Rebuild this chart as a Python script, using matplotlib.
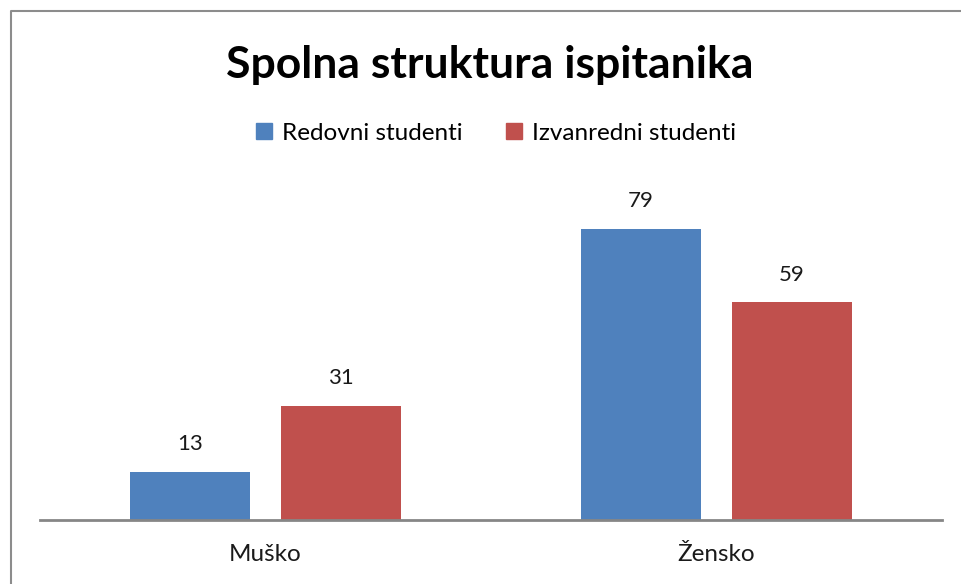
import matplotlib.pyplot as plt
import numpy as np
from matplotlib.lines import Line2D
from matplotlib.patches import Patch

categories = ["Muško", "Žensko"]
series_names = ["Redovni studenti", "Izvanredni studenti"]
redovni = [13, 79]
izvanredni = [31, 59]
colors = ["#4f81bd", "#c0504d"]

plt.rcParams['font.family'] = ['Lato', 'DejaVu Sans']

W, H = 961, 584
fig = plt.figure(figsize=(W / 100, H / 100), dpi=100)

# plot area in pixels
ax = fig.add_axes([40 / W, (H - 520) / H, 902 / W, 332 / H])

x = np.arange(len(categories))
bw = 0.265
off = 0.167
b1 = ax.bar(x - off, redovni, bw, color=colors[0])
b2 = ax.bar(x + off, izvanredni, bw, color=colors[1])

for bars in (b1, b2):
    for r in bars:
        ax.annotate(str(int(r.get_height())), (r.get_x() + r.get_width() / 2, r.get_height()),
                    xytext=(0, 20), textcoords="offset points",
                    ha="center", va="center", fontsize=16, color="#1a1a1a")

ax.set_xlim(-0.5, 1.5)
ax.set_ylim(0, 90)
ax.set_xticks(x)
ax.set_xticklabels(categories, fontsize=17.5, color="#1a1a1a")
ax.tick_params(axis="x", length=0, pad=17)
ax.set_yticks([])
for s in ["top", "right", "left"]:
    ax.spines[s].set_visible(False)
ax.spines["bottom"].set_color("#868686")
ax.spines["bottom"].set_linewidth(2)

fig.text(490 / W, 1 - 65 / H, "Spolna struktura ispitanika", ha="center", va="center",
         fontsize=32, fontweight="bold", color="black")

handles = [Patch(color=c) for c in colors]
fig.legend(handles, series_names, loc="center", bbox_to_anchor=(496 / W, 1 - 133 / H),
           ncol=2, frameon=False, fontsize=17.5, handlelength=0.65, handleheight=0.65,
           handletextpad=0.4, columnspacing=1.8)

# chart border (top and left visible)
bx = 11 / W
by = 1 - 11 / H
fig.add_artist(Line2D([bx, bx, 1], [0, by, by], transform=fig.transFigure,
                      color="#8c8c8c", linewidth=1.5))

fig.savefig("out.png", dpi=100, facecolor="white")
